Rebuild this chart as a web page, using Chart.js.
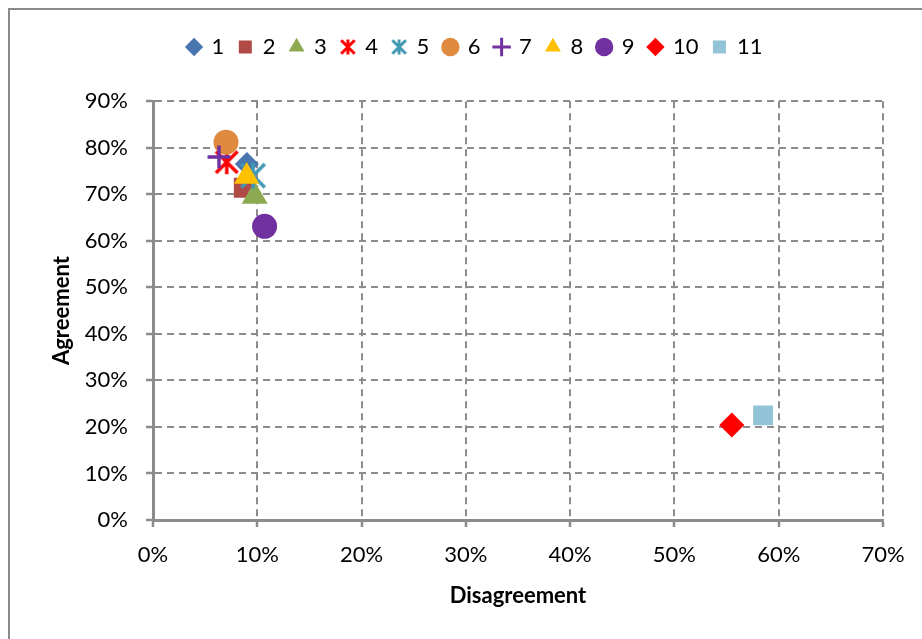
<!DOCTYPE html>
<html>
<head>
<meta charset="utf-8">
<script src="https://cdn.jsdelivr.net/npm/chart.js@4"></script>
<style>
  html, body { margin: 0; padding: 0; background: #fff; }
  #frame { position: absolute; left: 8px; top: 8px; width: 940px; height: 660px; border-left: 2px solid #8a8a8a; border-top: 2px solid #8a8a8a; }
  #wrap { position: absolute; left: 0; top: 0; width: 922px; height: 639px; }
</style>
</head>
<body>
<div id="frame"></div>
<div id="wrap"><canvas id="scatter"></canvas></div>
<script>
const seriesNames = ['1', '2', '3', '4', '5', '6', '7', '8', '9', '10', '11'];
const disagreement = [9.0, 8.7, 9.75, 7.07, 9.6, 7.0, 6.33, 8.98, 10.7, 55.5, 58.5];
const agreement = [76.5, 71.4, 69.6, 76.9, 74.0, 81.2, 78.0, 73.8, 63.1, 20.4, 22.5];
const colors = ['#4A76B0', '#B04A47', '#8DAA52', '#FF0000', '#4199B3', '#E08A40',
                '#7030A0', '#FFC000', '#7030A0', '#FF0000', '#93C3D6'];
const markers = ['rectRot', 'rect', 'triangle', 'asterisk', 'asterisk', 'circle',
                 'cross', 'triangle', 'circle', 'rectRot', 'rect'];
const markerSizes = [12, 14, 15, 12, 13, 12.5, 11.5, 14.5, 12.5, 12.5, 14];
const xTicks = [0, 10, 20, 30, 40, 50, 60, 70];
const yTicks = [0, 10, 20, 30, 40, 50, 60, 70, 80, 90];

const FONT = 'Lato, "Open Sans", sans-serif';

// Excel-style asterisk: an X with a vertical stroke through it
function asterisk(color, r, lw) {
    const s = Math.ceil(2 * r + lw + 2);
    const c = document.createElement('canvas');
    c.width = s; c.height = s;
    const g = c.getContext('2d');
    const m = s / 2, d = r * 0.9;
    g.strokeStyle = color;
    g.lineWidth = lw;
    g.beginPath();
    g.moveTo(m - d, m - d); g.lineTo(m + d, m + d);
    g.moveTo(m + d, m - d); g.lineTo(m - d, m + d);
    g.moveTo(m, m - r); g.lineTo(m, m + r);
    g.stroke();
    return c;
}

const datasets = seriesNames.map((name, i) => {
    const isStar = markers[i] === 'asterisk';
    const isCross = markers[i] === 'cross';
    return {
        label: name,
        data: [{x: disagreement[i], y: agreement[i]}],
        pointStyle: isStar ? asterisk(colors[i], markerSizes[i], 3.5) : markers[i],
        legendStyle: isStar ? asterisk(colors[i], 7.5, 3) : markers[i],
        pointRadius: markerSizes[i],
        backgroundColor: colors[i],
        borderColor: colors[i],
        pointBorderWidth: isCross ? 3.5 : 0,
        borderWidth: isCross ? 3.5 : 0,
        order: seriesNames.length - i
    };
});

const percent = v => v + '%';

const gridStyle = {color: '#8c8c8c', lineWidth: 2, tickLength: 7, tickColor: '#8c8c8c', tickWidth: 2.5, tickBorderDash: []};
const borderStyle = {display: true, color: '#8c8c8c', width: 3, dash: [7, 5]};

new Chart(document.getElementById('scatter'), {
    type: 'scatter',
    data: {datasets},
    options: {
        responsive: true,
        maintainAspectRatio: false,
        animation: false,
        layout: {padding: {left: 67, right: 39, top: 21.5, bottom: 0}},
        plugins: {
            tooltip: {enabled: false},
            legend: {
                position: 'top',
                reverse: true,
                labels: {
                    usePointStyle: true,
                    boxWidth: 13,
                    boxHeight: 13,
                    padding: 14.5,
                    color: '#000',
                    font: {family: FONT, size: 22},
                    generateLabels(chart) {
                        const items = Chart.defaults.plugins.legend.labels.generateLabels(chart);
                        items.forEach(it => {
                            const ds = chart.data.datasets[it.datasetIndex];
                            it.pointStyle = ds.legendStyle;
                            it.lineWidth = ds.pointBorderWidth ? 3 : 0;
                        });
                        return items;
                    }
                }
            },
            // empty spacer between the legend row and the plot
            subtitle: {
                display: true,
                text: '',
                weight: 500,
                font: {size: 1},
                padding: {top: 32, bottom: 0}
            }
        },
        scales: {
            x: {
                type: 'linear',
                min: 0,
                max: 70,
                afterFit: s => { s.height = 119; },
                afterBuildTicks: s => { s.ticks = xTicks.map(v => ({value: v})); },
                ticks: {
                    callback: percent,
                    padding: 15,
                    color: '#000',
                    font: {family: FONT, size: 22}
                },
                grid: gridStyle,
                border: borderStyle,
                title: {
                    display: true,
                    text: 'Disagreement',
                    color: '#000',
                    font: {family: FONT, size: 22, weight: 'bold'},
                    padding: {top: 0, bottom: 30}
                }
            },
            y: {
                type: 'linear',
                min: 0,
                max: 90,
                afterFit: s => { s.width = 86; },
                afterBuildTicks: s => { s.ticks = yTicks.map(v => ({value: v})); },
                ticks: {
                    callback: percent,
                    padding: 18,
                    color: '#000',
                    font: {family: FONT, size: 22}
                },
                grid: gridStyle,
                border: borderStyle,
                title: {
                    display: true,
                    text: 'Agreement',
                    color: '#000',
                    font: {family: FONT, size: 22, weight: 'bold'},
                    padding: {top: -18, bottom: 0}
                }
            }
        }
    }
});
</script>
</body>
</html>
